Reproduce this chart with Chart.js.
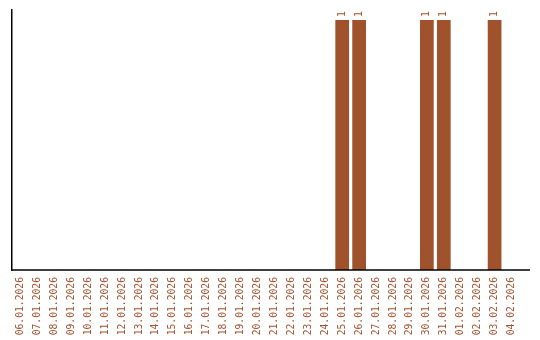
<!DOCTYPE html>
<html>
<head>
<meta charset="utf-8">
<script src="https://cdn.jsdelivr.net/npm/chart.js@4/dist/chart.umd.min.js"></script>
<style>
  html, body { margin: 0; padding: 0; background: #fff; }
  #wrap { width: 540px; height: 340px; }
</style>
</head>
<body>
<div id="wrap"><canvas id="chart" width="540" height="340"></canvas></div>
<script>
const labels = [
	'06.01.2026', '07.01.2026', '08.01.2026', '09.01.2026', '10.01.2026',
	'11.01.2026', '12.01.2026', '13.01.2026', '14.01.2026', '15.01.2026',
	'16.01.2026', '17.01.2026', '18.01.2026', '19.01.2026', '20.01.2026',
	'21.01.2026', '22.01.2026', '23.01.2026', '24.01.2026', '25.01.2026',
	'26.01.2026', '27.01.2026', '28.01.2026', '29.01.2026', '30.01.2026',
	'31.01.2026', '01.02.2026', '02.02.2026', '03.02.2026', '04.02.2026'
];
const counts = [
	0, 0, 0, 0, 0,
	0, 0, 0, 0, 0,
	0, 0, 0, 0, 0,
	0, 0, 0, 0, 1,
	1, 0, 0, 0, 1,
	1, 0, 0, 1, 0
];

const brown = '#A0522D';
const monoFont = 'DejaVu Sans Mono';

// draws the value above each bar, rotated like the axis labels
const barValues = {
	id: 'barValues',
	afterDatasetsDraw(chart) {
		let ctx = chart.ctx;
		let meta = chart.getDatasetMeta(0);
		ctx.save();
		ctx.fillStyle = brown;
		ctx.font = '10px "' + monoFont + '"';
		ctx.textAlign = 'left';
		ctx.textBaseline = 'middle';
		meta.data.forEach(function (bar, i) {
			if (!counts[i]) return;
			ctx.save();
			ctx.translate(bar.x, bar.y - 3);
			ctx.rotate(-Math.PI / 2);
			ctx.fillText(String(counts[i]), 0, 0);
			ctx.restore();
		});
		ctx.restore();
	}
};

// bottom axis line runs a bit past the last category
const baseLine = {
	id: 'baseLine',
	afterDraw(chart) {
		let ctx = chart.ctx;
		let area = chart.chartArea;
		ctx.save();
		ctx.strokeStyle = '#000';
		ctx.lineWidth = 1.5;
		ctx.beginPath();
		ctx.moveTo(area.left - 0.75, area.bottom);
		ctx.lineTo(area.right + 10, area.bottom);
		ctx.stroke();
		ctx.restore();
	}
};

let ctx = document.getElementById('chart').getContext('2d');

var CountChart = new Chart(ctx, {
	type: 'bar',
	data: {
		labels: labels,
		datasets: [{
			label: 'Count',
			backgroundColor: brown,
			borderWidth: 0,
			barPercentage: 0.9,
			categoryPercentage: 0.9,
			data: counts
		}]
	},
	options: {
		responsive: false,
		animation: false,
		layout: { padding: { left: 4, top: 10, right: 20, bottom: 0 } },
		plugins: {
			legend: { display: false },
			tooltip: { enabled: false }
		},
		scales: {
			x: {
				grid: { display: false },
				border: { display: false },
				afterFit(scale) { scale.height = 70; },
				ticks: {
					color: brown,
					minRotation: 90,
					maxRotation: 90,
					autoSkip: false,
					padding: -1,
					font: { family: monoFont, size: 9.7 }
				}
			},
			y: {
				min: 0,
				max: 1.04,
				grid: { display: false },
				border: { display: true, color: '#000', width: 1.5 },
				ticks: { display: false }
			}
		}
	},
	plugins: [barValues, baseLine]
});
</script>
</body>
</html>
